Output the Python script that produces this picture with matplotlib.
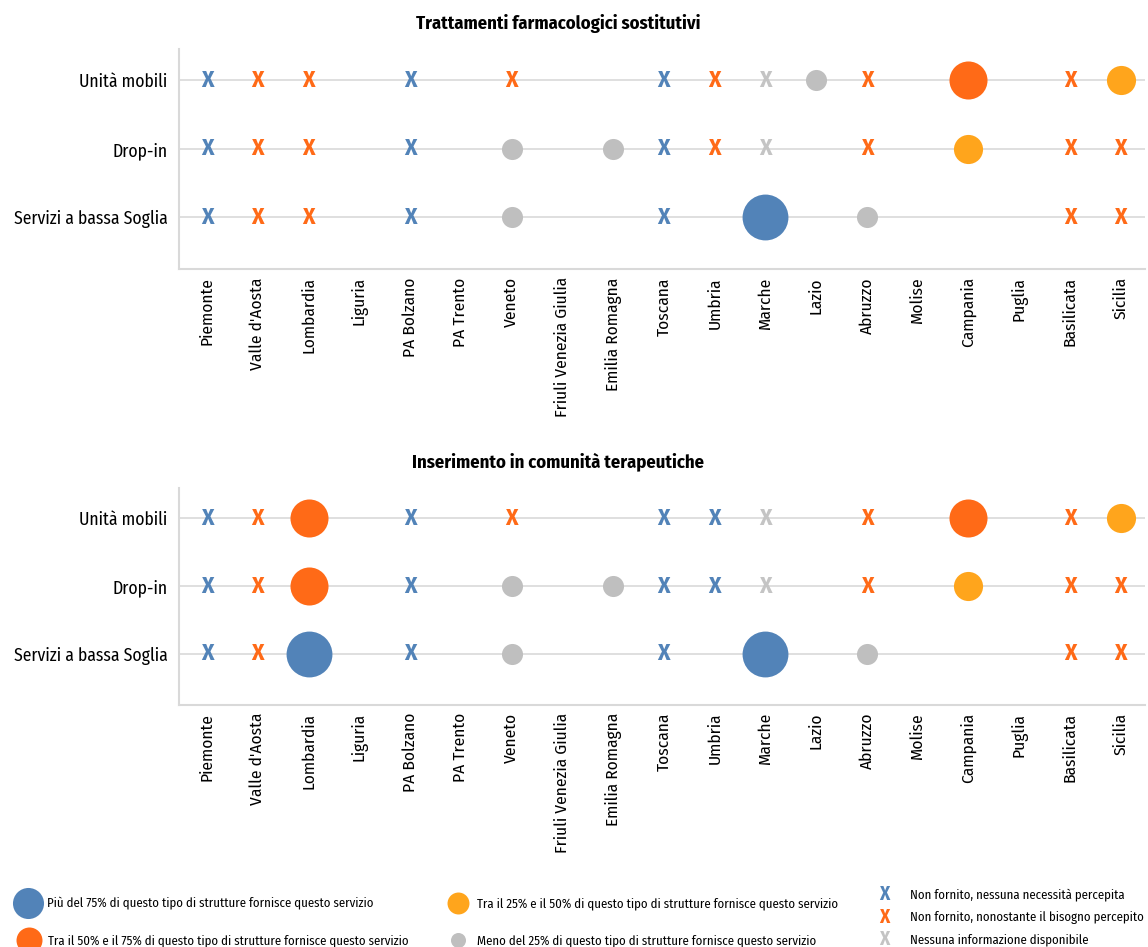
import numpy as np
import matplotlib.pyplot as plt

plt.rcParams['font.family'] = ['Fira Sans Condensed', 'Roboto Condensed', 'PT Sans Narrow',
                               'Liberation Sans', 'DejaVu Sans']

regions = ['Piemonte', "Valle d'Aosta", 'Lombardia', 'Liguria', 'PA Bolzano', 'PA Trento',
           'Veneto', 'Friuli Venezia Giulia', 'Emilia Romagna', 'Toscana', 'Umbria', 'Marche',
           'Lazio', 'Abruzzo', 'Molise', 'Campania', 'Puglia', 'Basilicata', 'Sicilia']
services = ['Unità mobili', 'Drop-in', 'Servizi a bassa Soglia']

# codes: XB/XO/XG = not provided (blue/orange/grey X), C75/C50/C25/C0 = share of structures
trattamenti = {
    'Unità mobili': ['XB', 'XO', 'XO', '', 'XB', '', 'XO', '', '', 'XB', 'XO', 'XG', 'C0', 'XO', '', 'C50', '', 'XO', 'C25'],
    'Drop-in': ['XB', 'XO', 'XO', '', 'XB', '', 'C0', '', 'C0', 'XB', 'XO', 'XG', '', 'XO', '', 'C25', '', 'XO', 'XO'],
    'Servizi a bassa Soglia': ['XB', 'XO', 'XO', '', 'XB', '', 'C0', '', '', 'XB', '', 'C75', '', 'C0', '', '', '', 'XO', 'XO'],
}
inserimento = {
    'Unità mobili': ['XB', 'XO', 'C50', '', 'XB', '', 'XO', '', '', 'XB', 'XB', 'XG', '', 'XO', '', 'C50', '', 'XO', 'C25'],
    'Drop-in': ['XB', 'XO', 'C50', '', 'XB', '', 'C0', '', 'C0', 'XB', 'XB', 'XG', '', 'XO', '', 'C25', '', 'XO', 'XO'],
    'Servizi a bassa Soglia': ['XB', 'XO', 'C75', '', 'XB', '', 'C0', '', '', 'XB', '', 'C75', '', 'C0', '', '', '', 'XO', 'XO'],
}
titles = ['Trattamenti farmacologici sostitutivi', 'Inserimento in comunità terapeutiche']

blue = '#5283b8'
orange = '#ff6a17'
yellow = '#ffa51c'
grey = '#bfbfbf'
circle_style = {'C75': (blue, 1090), 'C50': (orange, 750), 'C25': (yellow, 440), 'C0': (grey, 230)}
x_color = {'XB': blue, 'XO': orange, 'XG': '#c4c4c4'}

fig = plt.figure(figsize=(11.48, 9.47), dpi=100)
axes = [fig.add_axes([0.156, 0.716, 0.841, 0.232]),
        fig.add_axes([0.156, 0.256, 0.841, 0.229])]

for ax, data, title in zip(axes, [trattamenti, inserimento], titles):
    for j, serv in enumerate(services):
        y = 2 - j
        ax.axhline(y, color='#d9d9d9', lw=1.2, zorder=0)
        for i, code in enumerate(data[serv]):
            if code in circle_style:
                c, s = circle_style[code]
                ax.scatter(i, y, s=s, color=c, linewidths=0, zorder=3)
            elif code in x_color:
                ax.text(i, y, 'X', color=x_color[code], fontsize=17, fontweight='bold',
                        ha='center', va='center', zorder=3)
    ax.set_xlim(-0.55, 18.47)
    ax.set_ylim(-0.75, 2.45)
    ax.set_yticks([2, 1, 0])
    ax.set_yticklabels(services, fontsize=12.7)
    ax.set_xticks(range(len(regions)))
    ax.set_xticklabels(regions, rotation=90, fontsize=12.5, va='top')
    ax.tick_params(axis='x', length=0, pad=6)
    ax.tick_params(axis='y', length=0, pad=8.5)
    for side in ['top', 'right']:
        ax.spines[side].set_visible(False)
    for side in ['left', 'bottom']:
        ax.spines[side].set_color('#d9d9d9')
        ax.spines[side].set_linewidth(1.5)

fig.text(0.486, 0.975, titles[0], ha='center', va='center', fontsize=13.4, fontweight='bold')
fig.text(0.486, 0.513, titles[1], ha='center', va='center', fontsize=13.4, fontweight='bold')

# legend
leg = fig.add_axes([0, 0, 1, 0.08])
leg.set_xlim(0, 1148)
leg.set_ylim(75.76, 0)
leg.axis('off')
circ_items = [('C75', 28, 903 - 871, 'Più del 75% di questo tipo di strutture fornisce questo servizio'),
              ('C50', 29, 940 - 871, 'Tra il 50% e il 75% di questo tipo di strutture fornisce questo servizio'),
              ('C25', 458, 903 - 871, 'Tra il 25% e il 50% di questo tipo di strutture fornisce questo servizio'),
              ('C0', 458, 940 - 871, 'Meno del 25% di questo tipo di strutture fornisce questo servizio')]
leg_sizes = {'C75': 500, 'C50': 350, 'C25': 250, 'C0': 117}
for code, lx, ly, label in circ_items:
    leg.scatter(lx, ly, s=leg_sizes[code], color=circle_style[code][0], linewidths=0, clip_on=False)
    leg.text(lx + 19, ly, label, fontsize=9.2, va='center', ha='left')
x_items = [('XB', 894 - 871, 'Non fornito, nessuna necessità percepita'),
           ('XO', 917 - 871, 'Non fornito, nonostante il bisogno percepito'),
           ('XG', 939 - 871, 'Nessuna informazione disponibile')]
for code, ly, label in x_items:
    leg.text(884, ly, 'X', color=x_color[code], fontsize=14, fontweight='bold', ha='center', va='center')
    leg.text(910, ly, label, fontsize=9.2, va='center', ha='left')

fig.savefig('out.png', dpi=100)
